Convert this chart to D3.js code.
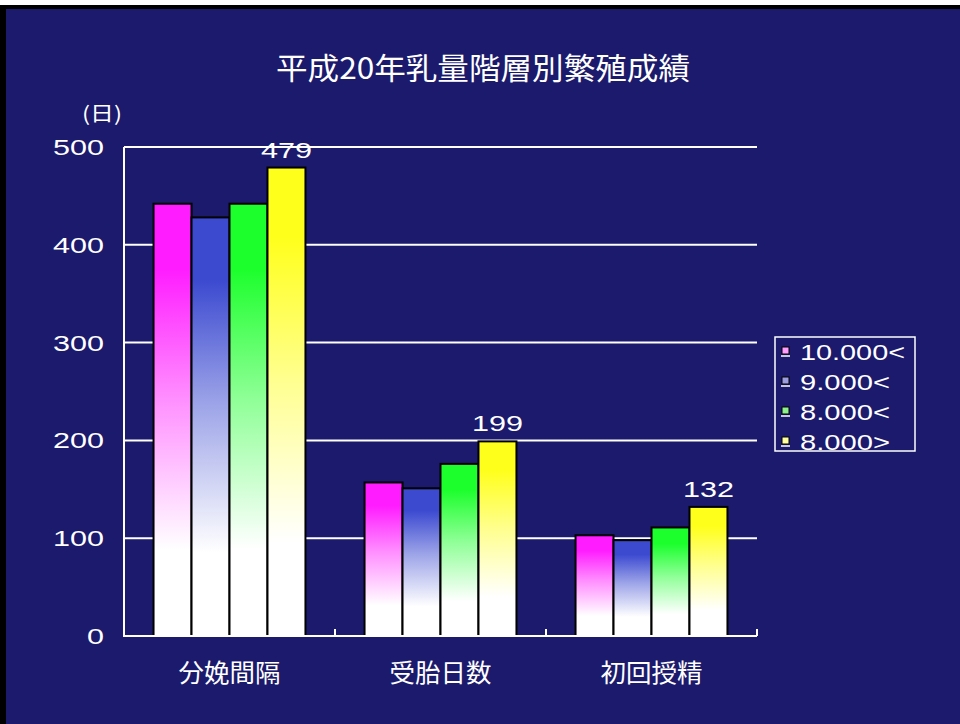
<!DOCTYPE html>
<html>
<head>
<meta charset="utf-8">
<script src="https://cdn.jsdelivr.net/npm/d3@7"></script>
<style>
  html, body { margin: 0; padding: 0; background: #ffffff; }
  svg { display: block; }
  text { font-family: "Liberation Sans", Arial, sans-serif; fill: #ffffff; }
  .jp { font-family: "Noto Sans CJK JP", "Noto Sans CJK SC", sans-serif; }
</style>
</head>
<body>
<svg id="chart" width="960" height="724"></svg>
<script>
// Breeding results by milk-yield class (days)
const categories = ["分娩間隔", "受胎日数", "初回授精"];
const seriesNames = ["10.000<", "9.000<", "8.000<", "8.000>"];
const valuesOver10000 = [442, 157, 103];
const valuesOver9000 = [428, 151, 98];
const valuesOver8000 = [442, 176, 111];
const valuesUnder8000 = [479, 199, 132];
const seriesValues = [valuesOver10000, valuesOver9000, valuesOver8000, valuesUnder8000];
const yTicks = [0, 100, 200, 300, 400, 500];
const labelledSeries = 3;

const barColors = ["#ff1cff", "#3c4ad0", "#1cff2c", "#ffff1c"];
const legendColors = ["#ff9cff", "#9c9ce0", "#8cf08c", "#ffffa0"];

const svg = d3.select("#chart");
const W = 960, H = 724;
const plot = { left: 124, right: 757, top: 147, bottom: 636 };

// wide digit text: each character gets roughly the same advance
const digitWidth = 17;
function wideText(sel, size) {
  sel.attr("font-size", size)
    .attr("textLength", function () { return this.textContent.length * digitWidth; })
    .attr("lengthAdjust", "spacingAndGlyphs");
}

// frame: navy panel with a dark top/left edge
svg.append("rect").attr("x", 0).attr("y", 5).attr("width", W).attr("height", H - 5).attr("fill", "#000000");
svg.append("rect").attr("x", 6).attr("y", 9).attr("width", W - 6).attr("height", H - 9).attr("fill", "#1b1a6c");

// gradients: saturated at the top of each bar, fading to white
const defs = svg.append("defs");
barColors.forEach((c, i) => {
  const g = defs.append("linearGradient")
    .attr("id", "grad" + i)
    .attr("x1", 0).attr("y1", 0).attr("x2", 0).attr("y2", 1);
  g.append("stop").attr("offset", "0%").attr("stop-color", c);
  g.append("stop").attr("offset", "15%").attr("stop-color", c);
  g.append("stop").attr("offset", "45%").attr("stop-color", d3.interpolateRgb(c, "#ffffff")(0.5));
  g.append("stop").attr("offset", "80%").attr("stop-color", "#ffffff");
  g.append("stop").attr("offset", "100%").attr("stop-color", "#ffffff");
});

const x0 = d3.scaleBand().domain(categories).range([plot.left, plot.right]).padding(0);
const bw = x0.bandwidth();
const x1 = d3.scaleBand().domain(d3.range(seriesNames.length)).range([bw * 0.14, bw * 0.86]).padding(0);
const y = d3.scaleLinear().domain([0, 500]).range([plot.bottom, plot.top]);

// title
svg.append("text").attr("class", "jp")
  .attr("x", 483).attr("y", 79)
  .attr("text-anchor", "middle")
  .attr("font-size", 30)
  .attr("textLength", 414)
  .attr("lengthAdjust", "spacingAndGlyphs")
  .text("平成20年乳量階層別繁殖成績");

// unit label
svg.append("text").attr("class", "jp")
  .attr("x", 82).attr("y", 121)
  .attr("font-size", 20)
  .attr("textLength", 40)
  .attr("lengthAdjust", "spacingAndGlyphs")
  .text("(日)");

// gridlines
svg.append("g").selectAll("line")
  .data(yTicks.filter(t => t > 0))
  .join("line")
  .attr("x1", plot.left).attr("x2", plot.right)
  .attr("y1", d => y(d)).attr("y2", d => y(d))
  .attr("stroke", "#ffffff").attr("stroke-width", 2);

// y axis labels
svg.append("g").selectAll("text")
  .data(yTicks)
  .join("text")
  .attr("x", 104).attr("y", d => y(d) + 8)
  .attr("text-anchor", "end")
  .text(d => d)
  .call(wideText, 22);

// bars
const groups = svg.append("g").selectAll("g")
  .data(categories)
  .join("g")
  .attr("transform", d => `translate(${x0(d)},0)`);

groups.selectAll("rect")
  .data((d, ci) => seriesValues.map((vals, si) => ({ si, v: vals[ci] })))
  .join("rect")
  .attr("x", d => x1(d.si))
  .attr("y", d => y(d.v))
  .attr("width", x1.bandwidth())
  .attr("height", d => y(0) - y(d.v))
  .attr("fill", d => `url(#grad${d.si})`)
  .attr("stroke", "#000000")
  .attr("stroke-width", 2);

// value labels for the top series
svg.append("g").selectAll("text")
  .data(categories)
  .join("text")
  .attr("x", d => x0(d) + x1(labelledSeries) + x1.bandwidth() / 2)
  .attr("y", (d, i) => y(seriesValues[labelledSeries][i]) - 10)
  .attr("text-anchor", "middle")
  .text((d, i) => seriesValues[labelledSeries][i])
  .call(wideText, 22);

// axes lines
svg.append("line")
  .attr("x1", plot.left).attr("x2", plot.left)
  .attr("y1", plot.top).attr("y2", plot.bottom)
  .attr("stroke", "#ffffff").attr("stroke-width", 2);
svg.append("line")
  .attr("x1", plot.left - 1).attr("x2", plot.right)
  .attr("y1", plot.bottom).attr("y2", plot.bottom)
  .attr("stroke", "#ffffff").attr("stroke-width", 2);
svg.append("g").selectAll("line")
  .data(categories)
  .join("line")
  .attr("x1", d => x0(d) + bw).attr("x2", d => x0(d) + bw)
  .attr("y1", plot.bottom).attr("y2", plot.bottom - 7)
  .attr("stroke", "#ffffff").attr("stroke-width", 2);

// category labels
svg.append("g").selectAll("text")
  .data(categories)
  .join("text")
  .attr("class", "jp")
  .attr("x", d => x0(d) + bw / 2)
  .attr("y", 682)
  .attr("text-anchor", "middle")
  .attr("font-size", 25)
  .attr("textLength", 102)
  .attr("lengthAdjust", "spacingAndGlyphs")
  .text(d => d);

// legend
const legend = svg.append("g").attr("transform", "translate(775,337)");
legend.append("rect")
  .attr("x", 0).attr("y", 0).attr("width", 140).attr("height", 114)
  .attr("fill", "#1b1a6c").attr("stroke", "#ffffff").attr("stroke-width", 1.5);
const rows = legend.selectAll("g.row")
  .data(seriesNames)
  .join("g")
  .attr("class", "row")
  .attr("transform", (d, i) => `translate(0,${14 + i * 30})`);
rows.append("rect")
  .attr("x", 7).attr("y", -4).attr("width", 7).attr("height", 7)
  .attr("fill", (d, i) => legendColors[i])
  .attr("stroke", "#000000").attr("stroke-width", 1);
rows.append("line")
  .attr("x1", 6).attr("x2", 15).attr("y1", 5).attr("y2", 5)
  .attr("stroke", "#ffffff").attr("stroke-width", 1.5);
rows.append("text")
  .attr("x", 25).attr("y", 9)
  .attr("font-size", 22)
  .attr("textLength", d => d.length * 15)
  .attr("lengthAdjust", "spacingAndGlyphs")
  .text(d => d);
</script>
</body>
</html>
